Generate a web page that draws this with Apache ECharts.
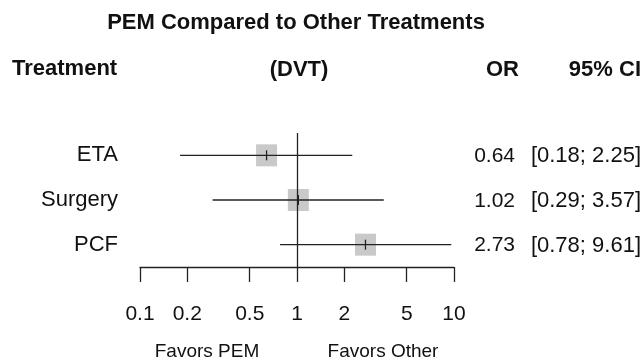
<!DOCTYPE html>
<html>
<head>
<meta charset="utf-8">
<script src="https://cdn.jsdelivr.net/npm/echarts@6/dist/echarts.min.js"></script>
<style>
  html, body { margin: 0; padding: 0; background: #fff; }
  #main { width: 644px; height: 360px; }
</style>
</head>
<body>
<div id="main"></div>
<script>
// study rows, top to bottom
const treatments = ['ETA', 'Surgery', 'PCF'];
const orValues = [0.64, 1.02, 2.73];
const ciLower = [0.18, 0.29, 0.78];
const ciUpper = [2.25, 3.57, 9.61];
const tickValues = [0.1, 0.2, 0.5, 1, 2, 5, 10];

const FONT = '"Liberation Sans", Arial, sans-serif';
const INK = '#222';

const rows = treatments.map((t, i) => [i, orValues[i], ciLower[i], ciUpper[i]]);

function fmt(v) {
  return v.toFixed(2);
}

function renderRow(params, api) {
  const idx = api.value(0);
  const mid = api.coord([api.value(1), idx]);
  const lo = api.coord([api.value(2), idx]);
  const hi = api.coord([api.value(3), idx]);
  const y = mid[1];
  return {
    type: 'group',
    children: [
      {
        type: 'rect',
        shape: { x: mid[0] - 10.5, y: y - 11, width: 21, height: 22 },
        style: { fill: '#c9c9c9' }
      },
      {
        type: 'line',
        shape: { x1: lo[0], y1: y, x2: hi[0], y2: y },
        style: { stroke: INK, lineWidth: 1.3 }
      },
      {
        type: 'line',
        shape: { x1: mid[0], y1: y - 5, x2: mid[0], y2: y + 5 },
        style: { stroke: INK, lineWidth: 1.3 }
      },
      {
        type: 'text',
        x: 515, y: y + 1,
        style: {
          text: fmt(api.value(1)), fill: '#111', font: '21px ' + FONT,
          align: 'right', verticalAlign: 'middle'
        }
      },
      {
        type: 'text',
        x: 641, y: y + 1,
        style: {
          text: '[' + fmt(api.value(2)) + '; ' + fmt(api.value(3)) + ']',
          fill: '#111', font: '22px ' + FONT,
          align: 'right', verticalAlign: 'middle'
        }
      }
    ]
  };
}

const chart = echarts.init(document.getElementById('main'));

chart.setOption({
  animation: false,
  backgroundColor: '#fff',
  title: {
    text: 'PEM Compared to Other Treatments',
    left: 296,
    textAlign: 'center',
    top: 12,
    padding: 0,
    textStyle: { fontFamily: FONT, fontSize: 22, fontWeight: 'bold', color: '#111' }
  },
  grid: { left: 140, right: 190, top: 133, bottom: 93 },
  xAxis: {
    type: 'log',
    logBase: 10,
    min: 0.1,
    max: 10,
    splitLine: { show: false },
    axisLine: { show: true, lineStyle: { color: INK, width: 1.3 } },
    axisTick: {
      show: true, length: 15, customValues: tickValues,
      lineStyle: { color: INK, width: 1.3 }
    },
    axisLabel: {
      customValues: tickValues,
      margin: 37,
      fontFamily: FONT,
      fontSize: 21,
      lineHeight: 21,
      color: '#111',
      formatter: v => String(+(+v).toPrecision(3))
    }
  },
  yAxis: {
    type: 'category',
    data: treatments,
    inverse: true,
    axisLine: { show: false },
    axisTick: { show: false },
    splitLine: { show: false },
    axisLabel: { margin: 22, fontFamily: FONT, fontSize: 22, color: '#111' }
  },
  graphic: [
    { type: 'text', left: 12, top: 58, style: { text: 'Treatment', font: 'bold 22px ' + FONT, fill: '#111' } },
    { type: 'text', x: 299, y: 70, style: { text: '(DVT)', font: 'bold 22px ' + FONT, fill: '#111', align: 'center', verticalAlign: 'middle' } },
    { type: 'text', x: 519, y: 70, style: { text: 'OR', font: 'bold 22px ' + FONT, fill: '#111', align: 'right', verticalAlign: 'middle' } },
    { type: 'text', x: 641, y: 70, style: { text: '95% CI', font: 'bold 22px ' + FONT, fill: '#111', align: 'right', verticalAlign: 'middle' } },
    { type: 'text', x: 207, y: 352, style: { text: 'Favors PEM', font: '19px ' + FONT, fill: '#111', align: 'center', verticalAlign: 'middle' } },
    { type: 'text', x: 383, y: 352, style: { text: 'Favors Other', font: '19px ' + FONT, fill: '#111', align: 'center', verticalAlign: 'middle' } }
  ],
  series: [
    {
      type: 'custom',
      renderItem: renderRow,
      encode: { x: [1, 2, 3], y: 0 },
      data: rows,
      clip: false,
      z: 2,
      markLine: {
        silent: true,
        symbol: 'none',
        z: 5,
        label: { show: false },
        lineStyle: { color: INK, width: 1.3, type: 'solid' },
        data: [{ xAxis: 1 }]
      }
    }
  ]
});
</script>
</body>
</html>
